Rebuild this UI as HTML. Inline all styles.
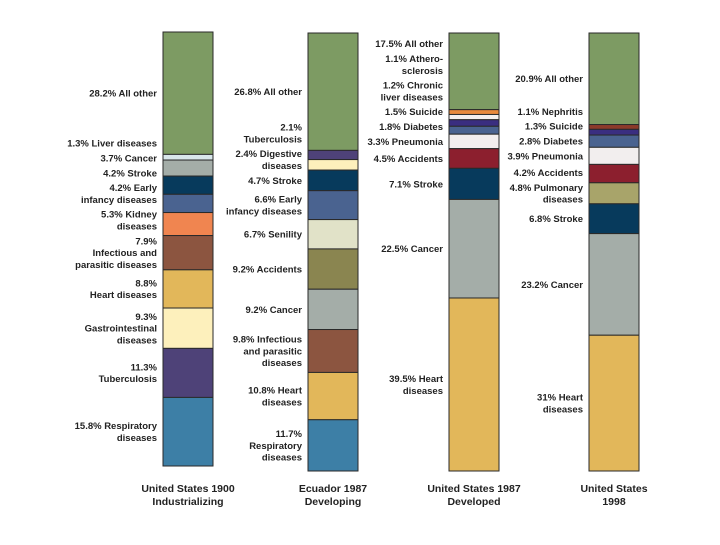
<!DOCTYPE html>
<html><head><meta charset="utf-8"><style>
body{margin:0;background:#fff;}
svg text{font-family:"Liberation Sans",sans-serif;font-weight:bold;fill:#222;}
</style></head><body>
<svg id="chart" width="720" height="540" viewBox="0 0 720 540" xmlns="http://www.w3.org/2000/svg"></svg>
<script>
const columns = ["United States 1900|Industrializing","Ecuador 1987|Developing","United States 1987|Developed","United States|1998"];
const col1Values = [28.2,1.3,3.7,4.2,4.2,5.3,7.9,8.8,9.3,11.3,15.8];
const col1Labels = ["28.2% All other","1.3% Liver diseases","3.7% Cancer","4.2% Stroke","4.2% Early|infancy diseases","5.3% Kidney|diseases","7.9%|Infectious and|parasitic diseases","8.8%|Heart diseases","9.3%|Gastrointestinal|diseases","11.3%|Tuberculosis","15.8% Respiratory|diseases"];
const col1Colors = ["#7d9b63","#d8e6ea","#a4ada8","#073a5c","#4a6390","#f08550","#8c5540","#e2b75a","#fdf0bc","#4e4278","#3d7fa6"];
const col2Values = [26.8,2.1,2.4,4.7,6.6,6.7,9.2,9.2,9.8,10.8,11.7];
const col2Labels = ["26.8% All other","2.1%|Tuberculosis","2.4% Digestive|diseases","4.7% Stroke","6.6% Early|infancy diseases","6.7% Senility","9.2% Accidents","9.2% Cancer","9.8% Infectious|and parasitic|diseases","10.8% Heart|diseases","11.7%|Respiratory|diseases"];
const col2Colors = ["#7d9b63","#4e4278","#fdf0bc","#073a5c","#4a6390","#e1e2c8","#8a8550","#a4ada8","#8c5540","#e2b75a","#3d7fa6"];
const col3Values = [17.5,1.1,1.2,1.5,1.8,3.3,4.5,7.1,22.5,39.5];
const col3Labels = ["17.5% All other","1.1% Athero-|sclerosis","1.2% Chronic|liver diseases","1.5% Suicide","1.8% Diabetes","3.3% Pneumonia","4.5% Accidents","7.1% Stroke","22.5% Cancer","39.5% Heart|diseases"];
const col3Colors = ["#7d9b63","#e88a3c","#f4f0ee","#3a2e80","#4a6390","#f2eeee","#8c1f2e","#073a5c","#a4ada8","#e2b75a"];
const col4Values = [20.9,1.1,1.3,2.8,3.9,4.2,4.8,6.8,23.2,31];
const col4Labels = ["20.9% All other","1.1% Nephritis","1.3% Suicide","2.8% Diabetes","3.9% Pneumonia","4.2% Accidents","4.8% Pulmonary|diseases","6.8% Stroke","23.2% Cancer","31% Heart|diseases"];
const col4Colors = ["#7d9b63","#8c3a2a","#3a2e80","#4a6390","#f2eeee","#8c1f2e","#a8a46a","#073a5c","#a4ada8","#e2b75a"];

const svg = document.getElementById('chart');
const NS = 'http://www.w3.org/2000/svg';
const geo = [{x:163,top:32,bot:466},{x:308,top:33,bot:471},{x:449,top:33,bot:471},{x:589,top:33,bot:471}];
const W = 50, LH = 11.8, GAP = 3;
const sets = [[col1Values,col1Labels,col1Colors],[col2Values,col2Labels,col2Colors],[col3Values,col3Labels,col3Colors],[col4Values,col4Labels,col4Colors]];
function yScale(g, pct){ return g.top + (g.bot-g.top)*pct/100; }

sets.forEach((s,ci)=>{
  const [vals,labs,cols] = s; const g = geo[ci];
  const grp = document.createElementNS(NS,'g');
  
  
  svg.appendChild(grp);
  let cum = 0; const centers = [];
  vals.forEach((v,i)=>{
    const y0 = yScale(g,cum), y1 = yScale(g,cum+v); cum += v;
    const r = document.createElementNS(NS,'rect');
    r.setAttribute('x',g.x); r.setAttribute('y',y0); r.setAttribute('width',W); r.setAttribute('height',y1-y0);
    r.setAttribute('fill',cols[i]); r.setAttribute('stroke','#2a2a2a'); r.setAttribute('stroke-width','1');
    
    
    grp.appendChild(r);
    centers.push((y0+y1)/2);
  });
  const lines = labs.map(l=>l.split('|'));
  const hs = lines.map(l=>l.length*LH);
  const tops = centers.map((c,i)=>c-hs[i]/2);
  for(let i=tops.length-2;i>=0;i--){
    const maxTop = tops[i+1]-hs[i]-GAP;
    if(tops[i]>maxTop) tops[i]=maxTop;
  }
  lines.forEach((ls,i)=>{
    const t = document.createElementNS(NS,'text');
    t.setAttribute('text-anchor','end'); t.setAttribute('font-size','9.5');
    
    
    const xr = g.x-6;
    ls.forEach((ln,k)=>{
      const sp = document.createElementNS(NS,'tspan');
      sp.setAttribute('x', xr);
      sp.setAttribute('y', tops[i]+LH*(k+1)-2.5);
      sp.textContent = ln; t.appendChild(sp);
    });
    grp.appendChild(t);
  });
  const cl = document.createElementNS(NS,'text');
  cl.setAttribute('text-anchor','middle'); cl.setAttribute('font-size','10.5');
  
  
  columns[ci].split('|').forEach((ln,k)=>{
    const sp = document.createElementNS(NS,'tspan');
    sp.setAttribute('x', g.x+W/2); sp.setAttribute('y', 492+k*13);
    sp.textContent = ln; cl.appendChild(sp);
  });
  svg.appendChild(cl);
});
</script>
</body></html>
